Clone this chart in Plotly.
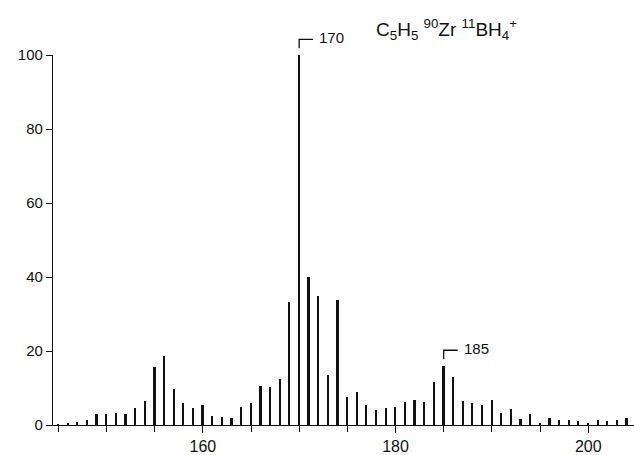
import plotly.graph_objects as go

# m/z values and relative intensities (%)
mz = list(range(145, 205))
intensity = [
    0.2, 0.3, 0.9, 1.4, 3.0, 3.0, 3.3, 3.0, 4.7, 6.5,      # 145-154
    15.7, 18.7, 9.7, 6.0, 4.7, 5.4, 2.5, 2.1, 2.0, 4.8,    # 155-164
    5.9, 10.5, 10.2, 12.5, 33.3, 100.0, 39.9, 34.9, 13.6, 33.7,  # 165-174
    7.7, 9.0, 5.3, 4.1, 4.5, 4.9, 6.3, 6.7, 6.1, 11.6,     # 175-184
    16.0, 12.9, 6.6, 6.0, 5.3, 6.8, 3.3, 4.4, 1.5, 3.0,    # 185-194
    0.5, 2.0, 1.4, 1.3, 1.1, 0.5, 1.4, 1.0, 1.4, 2.0,      # 195-204
]

labelled_peaks = [170, 185]
x_tickvals = [160, 180, 200]
y_tickvals = [0, 20, 40, 60, 80, 100]
title_text = "C<sub>5</sub>H<sub>5</sub> <sup>90</sup>Zr <sup>11</sup>BH<sub>4</sub><sup>+</sup>"

X_RANGE = [144.45, 204.75]
Y_MAX = 100

FONT = "Liberation Sans, Arial, sans-serif"
INK = "#111111"

fig = go.Figure()
fig.add_trace(go.Bar(
    x=mz, y=intensity, width=0.18,
    marker=dict(color=INK, line=dict(width=0)),
    hoverinfo="x+y",
))

shapes = []
annotations = []
for p in labelled_peaks:
    v = intensity[mz.index(p)]
    top = (v + 4.2) / Y_MAX
    low = (v + 1.8) / Y_MAX
    shapes.append(dict(
        type="path", xref="x", yref="paper",
        path=f"M {p},{low} L {p},{top} L {p + 1.45},{top}",
        line=dict(color=INK, width=1.3),
    ))
    annotations.append(dict(
        x=p + 1.9, y=top + 0.006, xref="x", yref="paper",
        text=str(p), showarrow=False, xanchor="left", yanchor="middle",
        font=dict(family=FONT, size=15, color=INK),
    ))

annotations.append(dict(
    x=0.552, y=1.07, xref="paper", yref="paper",
    text=title_text, showarrow=False, xanchor="left", yanchor="middle",
    font=dict(family=FONT, size=19, color=INK),
))

fig.update_layout(
    width=634, height=455,
    margin=dict(l=53, r=0, t=55, b=27, pad=0),
    paper_bgcolor="white", plot_bgcolor="white",
    showlegend=False,
    shapes=shapes, annotations=annotations,
    font=dict(family=FONT, size=12, color=INK),
    xaxis=dict(
        range=X_RANGE, showgrid=False, zeroline=False,
        showline=True, linecolor=INK, linewidth=1.3,
        tickvals=x_tickvals, ticks="outside", ticklen=7, tickwidth=1.2, tickcolor=INK,
        tickfont=dict(family=FONT, size=16, color=INK),
        minor=dict(dtick=5, tick0=0, ticks="outside", ticklen=6, tickwidth=1.2, tickcolor=INK),
    ),
    yaxis=dict(
        range=[0, Y_MAX], showgrid=False, zeroline=False,
        showline=True, linecolor=INK, linewidth=1.3,
        tickvals=y_tickvals, ticks="outside", ticklen=6, tickwidth=1.1, tickcolor=INK,
        tickfont=dict(family=FONT, size=15, color=INK),
    ),
    bargap=0,
)

fig.write_html(
    "out.html",
    config={"displayModeBar": False},
    post_script="document.body.style.margin='0';document.body.style.overflow='hidden';",
)
